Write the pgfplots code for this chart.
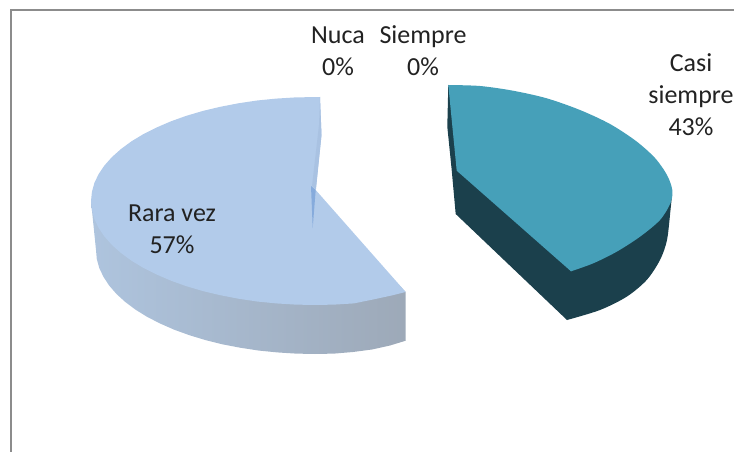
\documentclass[border=0pt]{standalone}
\usepackage{pgfplots}
\pgfplotsset{compat=1.18}
\usepackage{fontspec}
\setmainfont{Carlito}
\definecolor{lb}{HTML}{B2CBEA}
\definecolor{lbs}{HTML}{A9C2E2}
\definecolor{lbd}{HTML}{86ABDC}
\definecolor{sl}{HTML}{AEC4DE}
\definecolor{sr}{HTML}{9DA9B8}
\definecolor{tl}{HTML}{46A0B9}
\definecolor{tld}{HTML}{1B404C}
\definecolor{fr}{HTML}{8C8C8C}
\definecolor{tx}{HTML}{222222}
\tikzset{lab/.style={font=\fontsize{26}{32}\selectfont, text=tx, align=center, inner sep=0pt}}
\begin{document}
\begin{tikzpicture}
\useasboundingbox (0,0) rectangle (734pt,452pt);
\begin{axis}[
  scale only axis, width=734pt, height=452pt,
  xmin=0, xmax=734, ymin=0, ymax=452, y dir=reverse,
  hide axis, clip=true,
]
% frame
\addplot[fr, line width=2pt, no marks] coordinates {(11,452) (11,10) (734,10)};
% Rara vez side
\addplot[draw=none, left color=sl, right color=sr, no marks] coordinates {
 (91,201) (96,250) (96.8,259.1) (99.3,268.1) (103.5,276.9) (109.2,285.6) (116.5,294) (125.3,302)
 (135.6,309.7) (147.2,316.9) (160.1,323.5) (174.2,329.7) (189.4,335.2) (205.5,340.1) (222.4,344.3)
 (240.1,347.7) (258.3,350.5) (277,352.4) (295.9,353.6) (315,354) (334.1,353.6) (353,352)
 (372,349.5) (390,345.5) (405.7,340.7) (405.7,292) (315,200)} --cycle;
% Rara vez top
\addplot[draw=none, fill=lb, no marks] coordinates {
 (320,97) (295.5,97.4) (276.1,98.6) (257,100.5) (238.4,103.3) (220.3,106.8) (203,110.9) (186.4,115.8)
 (171,121.3) (156.6,127.5) (143.4,134.1) (131.5,141.3) (121,149) (112,157) (104.5,165.4) (98.6,174.1)
 (94.4,182.9) (91.9,192) (91,201) (91.9,210) (94.4,219.1) (98.6,227.9) (104.5,236.6) (112,245)
 (121,253) (131.5,260.7) (143.4,267.9) (156.6,274.5) (171,280.7) (186.4,286.2) (203,291.1)
 (220.3,295.2) (238.4,298.7) (257,301.5) (276.1,303.4) (295.5,304.6) (315,305) (334.5,304.6)
 (353.9,303.4) (373,299.5) (391.6,295.5) (405.7,292) (315.7,190) (321.5,135)} --cycle;
% Nuca and Siempre slivers
\addplot[draw=none, fill=lbs, no marks] coordinates {(320,97) (321.5,135) (316,189) (312,186) (319,125)} --cycle;
\addplot[draw=none, fill=lbd, no marks] coordinates {(311,186) (315.7,190) (312.7,228)} --cycle;
% Casi siempre side
\addplot[draw=none, fill=tld, no marks] coordinates {
 (448.3,85) (447.3,126.7) (451.7,170) (455.7,214) (567,320) (640,270) (672,195)} --cycle;
\addplot[draw=none, fill=tld, smooth, no marks] coordinates {
 (672,195) (670.5,210) (667,240) (660,260) (646.7,280) (626.7,296.7) (600,310) (567,320)};
% Casi siempre top
\addplot[draw=none, fill=tl, no marks] coordinates {(448.3,85) (456.7,170.7) (571,271.3) (620,230) (640,170) (600,130) (520,100)} --cycle;
\addplot[draw=none, fill=tl, smooth, no marks] coordinates {
 (448.3,85) (480,86) (513,90.7) (546.7,98.3) (580,110) (610,124) (636,141) (655,158)
 (667,175) (672.3,190) (670.5,203) (660,220) (640,236.7) (616.7,251.7) (593.3,263.3) (571,271.3)};
% labels
\node[lab] at (axis cs:338,51) {Nuca\\0\%};
\node[lab] at (axis cs:423,51) {Siempre\\0\%};
\node[lab] at (axis cs:691,95) {Casi\\siempre\\43\%};
\node[lab] at (axis cs:172,229) {Rara vez\\57\%};
\end{axis}
\end{tikzpicture}
\end{document}
